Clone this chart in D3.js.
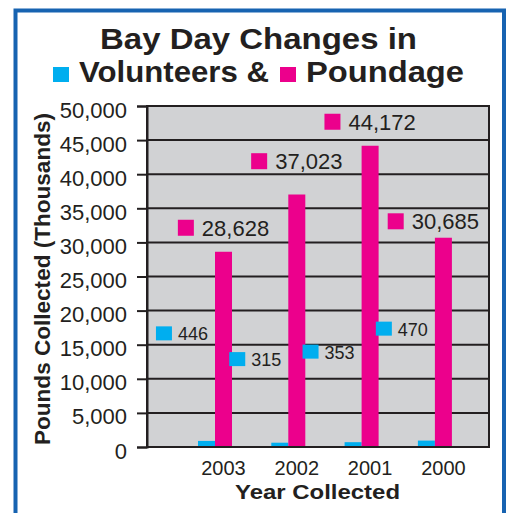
<!DOCTYPE html>
<html>
<head>
<meta charset="utf-8">
<script src="https://cdn.jsdelivr.net/npm/d3@7"></script>
<style>
  body { margin: 0; background: #fff; }
  text { font-family: "Liberation Sans", Arial, Helvetica, sans-serif; fill: #231f20; }
</style>
</head>
<body>
<svg id="chart" width="509" height="513"></svg>
<script>
var years = ["2003", "2002", "2001", "2000"];
var volunteers = [446, 315, 353, 470];
var poundage = [28628, 37023, 44172, 30685];
var yTicks = [0, 5000, 10000, 15000, 20000, 25000, 30000, 35000, 40000, 45000, 50000];
var seriesNames = ["Volunteers", "Poundage"];
var seriesColors = ["#00aeef", "#ec008c"];
var titleText = "Bay Day Changes in";
var xTitle = "Year Collected";
var yTitle = "Pounds Collected (Thousands)";

var svg = d3.select("#chart");
// plot box (note: "top" is taken by window.top)
var plotL = 147, plotR = 489, plotT = 106, plotB = 447;
var ink = "#231f20";

var x0 = d3.scaleBand().domain(years).range([178.35, 471.55])
    .paddingInner(0.536).paddingOuter(0.268);
var x1 = d3.scaleBand().domain(seriesNames).range([0, x0.bandwidth()]);
var y = d3.scaleLinear().domain([0, 50000]).range([plotB, plotT]);
// volunteers are counted on their own (smaller) scale
var yVol = d3.scaleLinear().domain([0, 25000]).range([plotB, plotT]);
var yVolLabel = d3.scaleLinear().domain([0, 1000]).range([421, 224.5]);
var color = d3.scaleOrdinal().domain(seriesNames).range(seriesColors);

var rows = years.map(function(yr, i) {
    return {
        year: yr,
        values: [
            {key: "Volunteers", value: volunteers[i], scale: yVol},
            {key: "Poundage", value: poundage[i], scale: y}
        ]
    };
});

// blue frame
svg.append("rect")
    .attr("x", 15.5).attr("y", 10.5)
    .attr("width", 488.5).attr("height", 540)
    .attr("fill", "none")
    .attr("stroke", "#1763b1")
    .attr("stroke-width", 4);

// title
svg.append("text")
    .attr("x", 100).attr("y", 49)
    .attr("font-size", "29px").attr("font-weight", "bold")
    .attr("textLength", 317).attr("lengthAdjust", "spacingAndGlyphs")
    .text(titleText);

var legendItems = [
    {name: seriesNames[0], label: seriesNames[0] + " &", x: 53, len: 190},
    {name: seriesNames[1], label: seriesNames[1], x: 280, len: 158}
];
var legend = svg.selectAll(".legend")
    .data(legendItems)
    .enter().append("g")
    .attr("class", "legend")
    .attr("transform", function(d) { return "translate(" + d.x + ",0)"; });
legend.append("rect")
    .attr("x", 0).attr("y", 67)
    .attr("width", 16).attr("height", 15)
    .attr("fill", function(d) { return color(d.name); });
legend.append("text")
    .attr("x", 26).attr("y", 82)
    .attr("font-size", "29px").attr("font-weight", "bold")
    .attr("textLength", function(d) { return d.len; })
    .attr("lengthAdjust", "spacingAndGlyphs")
    .text(function(d) { return d.label; });

// plot background
svg.append("rect")
    .attr("x", plotL).attr("y", plotT)
    .attr("width", plotR - plotL).attr("height", plotB - plotT)
    .attr("fill", "#d1d2d4");

// gridlines
var gridVals = yTicks.filter(function(d) { return d > 0 && d < 50000; });
svg.selectAll(".grid")
    .data(gridVals)
    .enter().append("line")
    .attr("class", "grid")
    .attr("x1", plotL).attr("x2", plotR)
    .attr("y1", function(d) { return y(d); })
    .attr("y2", function(d) { return y(d); })
    .attr("stroke", ink)
    .attr("stroke-width", 2);

// bars
var group = svg.selectAll(".year")
    .data(rows)
    .enter().append("g")
    .attr("class", "year")
    .attr("transform", function(d) { return "translate(" + x0(d.year) + ",0)"; });
group.selectAll("rect")
    .data(function(d) { return d.values; })
    .enter().append("rect")
    .attr("x", function(d) { return x1(d.key); })
    .attr("y", function(d) { return d.scale(d.value); })
    .attr("width", x1.bandwidth())
    .attr("height", function(d) { return plotB - d.scale(d.value); })
    .attr("fill", function(d) { return color(d.key); });

// plot border
svg.append("rect")
    .attr("x", plotL).attr("y", plotT)
    .attr("width", plotR - plotL).attr("height", plotB - plotT)
    .attr("fill", "none")
    .attr("stroke", ink)
    .attr("stroke-width", 2);

// y axis
var yAxis = svg.append("g")
    .attr("transform", "translate(" + plotL + ",0)")
    .call(d3.axisLeft(y).tickValues(yTicks).tickFormat(d3.format(","))
        .tickSize(10).tickPadding(10));
yAxis.selectAll("path, line").attr("stroke", ink).attr("stroke-width", 2);
yAxis.selectAll("text")
    .attr("font-size", "22px")
    .attr("font-family", "Liberation Sans, Arial, sans-serif")
    .attr("fill", ink)
    .attr("dy", "0.5em");

// x labels under the poundage bars
svg.selectAll(".xlabel")
    .data(years)
    .enter().append("text")
    .attr("class", "xlabel")
    .attr("x", function(d) { return x0(d) + x1("Poundage") + x1.bandwidth() / 2; })
    .attr("y", 475)
    .attr("text-anchor", "middle")
    .attr("font-size", "20px")
    .text(function(d) { return d; });

// axis titles
svg.append("text")
    .attr("x", 235).attr("y", 499)
    .attr("font-size", "21px").attr("font-weight", "bold")
    .attr("textLength", 165).attr("lengthAdjust", "spacingAndGlyphs")
    .text(xTitle);

svg.append("text")
    .attr("transform", "translate(50,445) rotate(-90)")
    .attr("font-size", "22.5px").attr("font-weight", "bold")
    .attr("textLength", 332).attr("lengthAdjust", "spacingAndGlyphs")
    .text(yTitle);

// poundage value labels, nudged off any gridline they would sit on
var fmt = d3.format(",");
rows.forEach(function(d) {
    var v = d.values[1].value;
    var base = y(v) - 16;
    gridVals.forEach(function(gv) {
        var gy = y(gv);
        if (gy > base - 18 && gy < base + 3) {
            var up = gy - 5, down = gy + 21;
            base = (Math.abs(up - base) <= Math.abs(down - base) || down > y(v) - 2) ? up : down;
        }
    });
    var g = svg.append("g");
    var t = g.append("text")
        .attr("x", 24).attr("y", 0)
        .attr("font-size", "22px")
        .text(fmt(v));
    g.append("rect")
        .attr("x", 0).attr("y", -16)
        .attr("width", 16).attr("height", 16)
        .attr("fill", color("Poundage"));
    var w = 24 + t.node().getComputedTextLength();
    var cx = x0(d.year) + x1("Poundage") + x1.bandwidth() / 2;
    var gx = Math.min(cx - w / 2, plotR - 10 - w);
    g.attr("transform", "translate(" + gx + "," + base + ")");
});

// volunteer value labels
rows.forEach(function(d) {
    var v = d.values[0].value;
    var base = yVolLabel(v) + 7;
    var g = svg.append("g");
    var t = g.append("text")
        .attr("x", x0(d.year) + 10).attr("y", base)
        .attr("text-anchor", "end")
        .attr("font-size", "18px")
        .text(fmt(v));
    var tw = t.node().getComputedTextLength();
    g.append("rect")
        .attr("x", x0(d.year) + 10 - tw - 6 - 16).attr("y", base - 14)
        .attr("width", 16).attr("height", 14)
        .attr("fill", color("Volunteers"));
});
</script>
</body>
</html>
